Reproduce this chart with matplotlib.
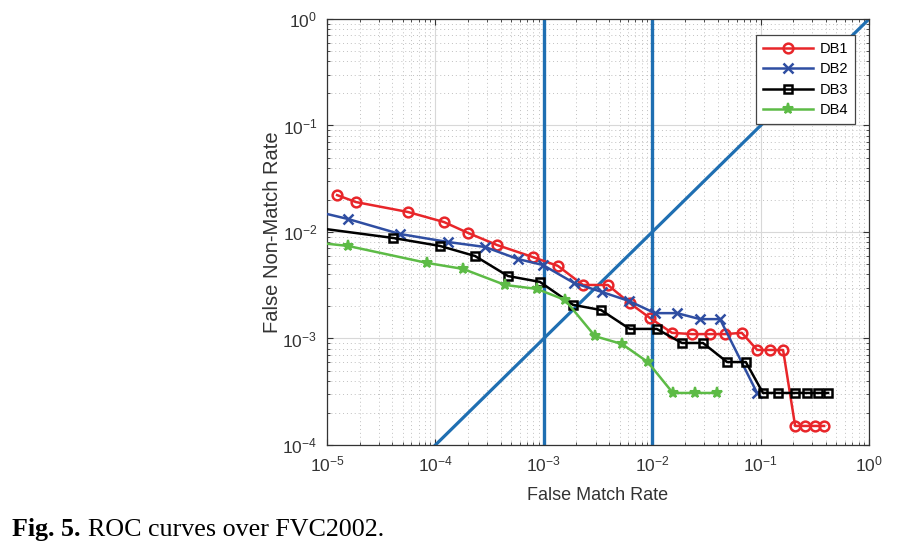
import numpy as np
import matplotlib
matplotlib.use("Agg")
import matplotlib.pyplot as plt
from matplotlib.ticker import LogLocator, NullFormatter

plt.rcParams['font.family'] = ['Liberation Sans', 'DejaVu Sans']
plt.rcParams['mathtext.fontset'] = 'custom'
plt.rcParams['mathtext.rm'] = 'Liberation Sans'
plt.rcParams['mathtext.it'] = 'Liberation Sans:italic'
plt.rcParams['mathtext.bf'] = 'Liberation Sans:bold'

# ROC data (FMR, FNMR)
db1_fmr = [1.24e-5, 1.85e-5, 5.6e-5, 1.2e-4, 2.0e-4, 3.7e-4, 7.9e-4, 1.35e-3, 2.3e-3, 3.9e-3,
           6.2e-3, 9.5e-3, 1.52e-2, 2.33e-2, 3.4e-2, 4.7e-2, 6.7e-2, 9.3e-2, 0.122, 0.161,
           0.208, 0.257, 0.318, 0.385]
db1_fnmr = [0.0222, 0.0191, 0.0154, 0.0124, 0.0098, 0.00755, 0.00582, 0.0048, 0.00318, 0.00318,
            0.00215, 0.00156, 0.00113, 0.0011, 0.0011, 0.0011, 0.00113, 0.00078, 0.00078, 0.00078,
            0.000151, 0.000151, 0.000151, 0.000151]

db2_fmr = [7e-6, 1.56e-5, 4.7e-5, 1.3e-4, 2.87e-4, 5.78e-4, 9.8e-4, 1.9e-3, 3.45e-3, 6.1e-3,
           1.06e-2, 1.69e-2, 2.76e-2, 4.22e-2, 9.27e-2]
db2_fnmr = [0.0161, 0.01325, 0.00958, 0.00806, 0.00723, 0.00557, 0.0049, 0.00332, 0.00273, 0.00225,
            0.00173, 0.00173, 0.00152, 0.00152, 0.000308]

db3_fmr = [7e-6, 4.07e-5, 1.1e-4, 2.32e-4, 4.67e-4, 9.2e-4, 1.86e-3, 3.37e-3, 6.2e-3, 1.1e-2,
           1.88e-2, 2.94e-2, 4.9e-2, 7.3e-2, 0.105, 0.145, 0.207, 0.268, 0.339, 0.419]
db3_fnmr = [0.01114, 0.00879, 0.0074, 0.00595, 0.00386, 0.0034, 0.00207, 0.00185, 0.00123, 0.00123,
            0.000907, 0.000907, 0.000601, 0.000601, 0.000308, 0.000308, 0.000308, 0.000308, 0.000308, 0.000308]

db4_fmr = [7e-6, 1.56e-5, 8.4e-5, 1.8e-4, 4.4e-4, 8.65e-4, 1.57e-3, 2.97e-3, 5.26e-3, 9.1e-3,
           1.55e-2, 2.48e-2, 3.96e-2]
db4_fnmr = [0.00806, 0.0074, 0.00512, 0.0045, 0.00318, 0.00292, 0.0023, 0.00105, 0.000887, 0.000601,
            0.000308, 0.000308, 0.000308]

ref_fmr = [1e-3, 1e-2]   # vertical reference lines
eer_line = [1e-5, 1.0]  # y = x line

fig = plt.figure(figsize=(9.02, 5.46), dpi=100)
ax = fig.add_axes([0.3625, 0.185, 0.601, 0.7802])

blue = '#1f6fb2'
for v in ref_fmr:
    ax.axvline(v, color=blue, lw=2.4, zorder=2)
ax.plot(eer_line, eer_line, color=blue, lw=2.3, zorder=2)

ax.plot(db1_fmr, db1_fnmr, '-o', color='#e8262a', lw=1.8, ms=7, mfc='none', mew=1.8, label='DB1', zorder=3)
ax.plot(db2_fmr, db2_fnmr, '-x', color='#2f4ea2', lw=1.8, ms=7, mew=1.8, label='DB2', zorder=3)
ax.plot(db3_fmr, db3_fnmr, '-s', color='black', lw=1.8, ms=6, mfc='none', mew=1.8, label='DB3', zorder=3)
ax.plot(db4_fmr, db4_fnmr, '-*', color='#5dbb46', lw=1.8, ms=8, mew=1.5, label='DB4', zorder=3)

ax.set_xscale('log')
ax.set_yscale('log')
ax.set_xlim(1e-5, 1)
ax.set_ylim(1e-4, 1)
ax.xaxis.set_major_locator(LogLocator(base=10, numticks=10))
ax.yaxis.set_major_locator(LogLocator(base=10, numticks=10))
ax.xaxis.set_minor_locator(LogLocator(base=10, subs=np.arange(2, 10), numticks=100))
ax.yaxis.set_minor_locator(LogLocator(base=10, subs=np.arange(2, 10), numticks=100))
ax.xaxis.set_minor_formatter(NullFormatter())
ax.yaxis.set_minor_formatter(NullFormatter())
ax.set_axisbelow(True)
ax.grid(True, which='major', color='#d8d8d8', lw=0.8)
ax.grid(True, which='minor', color='#c0c0c0', lw=0.7, ls=(0, (1, 3)))
ax.tick_params(which='both', direction='in', top=True, right=True, colors='#333333', labelsize=12.5)
ax.tick_params(which='major', length=4, pad=7)
ax.tick_params(which='minor', length=2)
for s in ax.spines.values():
    s.set_color('#333333')
    s.set_linewidth(0.9)

ax.set_xlabel('False Match Rate', fontsize=13, color='#333333', labelpad=9)
ax.set_ylabel('False Non-Match Rate', fontsize=14.5, color='#333333', labelpad=0)

leg = ax.legend(loc='upper right', bbox_to_anchor=(0.974, 0.962), borderaxespad=0, fontsize=10.5,
                fancybox=False, framealpha=1, edgecolor='#444444', handlelength=3.4,
                borderpad=0.45, labelspacing=0.45, handletextpad=0.5)
leg.get_frame().set_linewidth(0.9)

serif = ['Liberation Serif', 'DejaVu Serif']
t1 = fig.text(12 / 902, 10 / 546, 'Fig. 5.', fontsize=18.7, fontweight='bold', family=serif, va='baseline')
fig.canvas.draw()
bb = t1.get_window_extent()
fig.text((bb.x1 + 8) / fig.bbox.width, 10 / 546, 'ROC curves over FVC2002.', fontsize=18.7,
         family=serif, va='baseline')

fig.savefig('out.png', dpi=100)
